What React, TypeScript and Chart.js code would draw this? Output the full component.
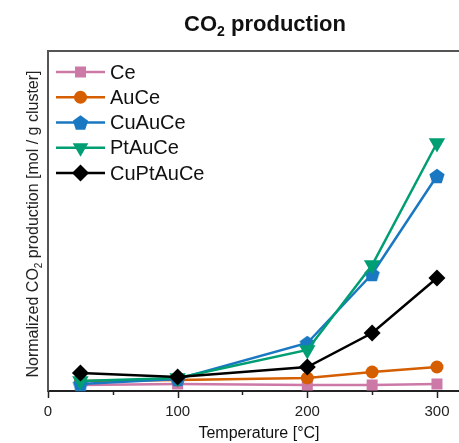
import React, { useEffect, useRef } from "react";
import { Chart, registerables } from "chart.js";

Chart.register(...registerables);

const temperatures = [25, 100, 200, 250, 300];
const seriesNames = ["Ce", "AuCe", "CuAuCe", "PtAuCe", "CuPtAuCe"];
const ceValues = [6, 7, 6, 6, 7];
const auCeValues = [10, 11, 13, 19, 24];
const cuAuCeValues = [7, 12, 48, 117, 215];
const ptAuCeValues = [10, 13, 41, 126, 248];
const cuPtAuCeValues = [18, 14, 24, 58, 113];
const xTickValues = [0, 50, 100, 150, 200, 250, 300];

const COLORS = ["#cc79a7", "#d55e00", "#1a78c2", "#009e73", "#000000"];
const FONT = "'Liberation Sans', Arial, Helvetica, sans-serif";

function makePentagon(color: string, r: number): HTMLCanvasElement {
  const c = document.createElement("canvas");
  const size = Math.ceil(r * 2 + 2);
  c.width = size;
  c.height = size;
  const ctx = c.getContext("2d")!;
  drawPentagon(ctx, size / 2, size / 2 + 0.8, r, color);
  return c;
}

function drawPentagon(ctx: CanvasRenderingContext2D, x: number, y: number, r: number, color: string) {
  ctx.beginPath();
  for (let i = 0; i < 5; i++) {
    const a = -Math.PI / 2 + (i * 2 * Math.PI) / 5;
    const px = x + r * Math.cos(a);
    const py = y + r * Math.sin(a);
    if (i === 0) ctx.moveTo(px, py);
    else ctx.lineTo(px, py);
  }
  ctx.closePath();
  ctx.fillStyle = color;
  ctx.fill();
}

function drawMarker(ctx: CanvasRenderingContext2D, kind: number, x: number, y: number) {
  const color = COLORS[kind];
  ctx.save();
  ctx.fillStyle = color;
  ctx.beginPath();
  if (kind === 0) {
    ctx.rect(x - 5.5, y - 5.5, 11, 11);
    ctx.fill();
  } else if (kind === 1) {
    ctx.arc(x, y, 6.5, 0, Math.PI * 2);
    ctx.fill();
  } else if (kind === 2) {
    drawPentagon(ctx, x, y + 0.8, 8, color);
  } else if (kind === 3) {
    const r = 9;
    ctx.moveTo(x, y + r);
    ctx.lineTo(x + r * 0.866, y - r * 0.5);
    ctx.lineTo(x - r * 0.866, y - r * 0.5);
    ctx.closePath();
    ctx.fill();
  } else {
    const r = 8.5;
    ctx.moveTo(x, y - r);
    ctx.lineTo(x + r, y);
    ctx.lineTo(x, y + r);
    ctx.lineTo(x - r, y);
    ctx.closePath();
    ctx.fill();
  }
  ctx.restore();
}

function drawSubText(
  ctx: CanvasRenderingContext2D,
  parts: { t: string; sub?: boolean }[],
  size: number,
  weight: string,
  cx: number,
  cy: number
) {
  let total = 0;
  const widths: number[] = [];
  for (const p of parts) {
    ctx.font = `${weight} ${p.sub ? Math.round(size * 0.65) : size}px ${FONT}`;
    const w = ctx.measureText(p.t).width;
    widths.push(w);
    total += w;
  }
  let x = cx - total / 2;
  ctx.textBaseline = "alphabetic";
  ctx.textAlign = "left";
  parts.forEach((p, i) => {
    ctx.font = `${weight} ${p.sub ? Math.round(size * 0.65) : size}px ${FONT}`;
    ctx.fillText(p.t, x, cy + (p.sub ? size * 0.22 : 0));
    x += widths[i];
  });
}

const decorPlugin = {
  id: "decor",
  afterDraw(chart: any) {
    const ctx: CanvasRenderingContext2D = chart.ctx;
    const area = chart.chartArea;
    const xs = chart.scales.x;
    ctx.save();
    // top border
    ctx.strokeStyle = "#555";
    ctx.lineWidth = 2;
    ctx.beginPath();
    ctx.moveTo(area.left - 1, area.top);
    ctx.lineTo(chart.width, area.top);
    ctx.stroke();
    // x ticks
    ctx.strokeStyle = "#222";
    ctx.lineWidth = 1.5;
    for (const v of xTickValues) {
      const px = Math.round(xs.getPixelForValue(v)) + 0.5;
      const len = v % 100 === 0 ? 7 : 4;
      ctx.beginPath();
      ctx.moveTo(px, area.bottom);
      ctx.lineTo(px, area.bottom + len);
      ctx.stroke();
    }
    // title
    ctx.fillStyle = "#111";
    drawSubText(ctx, [{ t: "CO" }, { t: "2", sub: true }, { t: " production" }], 22, "bold", 265, 31);
    // x title
    drawSubText(ctx, [{ t: "Temperature [°C]" }], 16, "normal", 259, 438);
    // y title
    ctx.save();
    ctx.translate(38, (area.top + area.bottom) / 2 + 3);
    ctx.rotate(-Math.PI / 2);
    ctx.fillStyle = "#222";
    drawSubText(
      ctx,
      [{ t: "Normalized CO" }, { t: "2", sub: true }, { t: " production [mol / g cluster]" }],
      16,
      "normal",
      0,
      0
    );
    ctx.restore();
    // x tick labels
    ctx.fillStyle = "#222";
    ctx.font = `15px ${FONT}`;
    ctx.textAlign = "center";
    ctx.textBaseline = "alphabetic";
    for (const v of xTickValues) {
      if (v % 100 !== 0) continue;
      ctx.fillText(String(v), xs.getPixelForValue(v), 416);
    }
    // legend
    const x0 = 56;
    const x1 = 105;
    const y0 = 72;
    const dy = 25.25;
    seriesNames.forEach((name, i) => {
      const y = y0 + i * dy;
      ctx.strokeStyle = COLORS[i];
      ctx.lineWidth = 2.5;
      ctx.beginPath();
      ctx.moveTo(x0, y);
      ctx.lineTo(x1, y);
      ctx.stroke();
      drawMarker(ctx, i, (x0 + x1) / 2, y);
      ctx.fillStyle = "#111";
      ctx.font = `20px ${FONT}`;
      ctx.textAlign = "left";
      ctx.textBaseline = "middle";
      ctx.fillText(name, 110, y + 1);
    });
    ctx.restore();
  },
};

export default function App() {
  const ref = useRef<HTMLCanvasElement | null>(null);
  useEffect(() => {
    if (!ref.current) return;
    const pentagon = makePentagon(COLORS[2], 8);
    const values = [ceValues, auCeValues, cuAuCeValues, ptAuCeValues, cuPtAuCeValues];
    const styles: any[] = [
      { pointStyle: "rect", pointRadius: 7.8, rotation: 0 },
      { pointStyle: "circle", pointRadius: 6.5, rotation: 0 },
      { pointStyle: pentagon, pointRadius: 8, rotation: 0 },
      { pointStyle: "triangle", pointRadius: 9.5, rotation: 180 },
      { pointStyle: "rectRot", pointRadius: 8.5, rotation: 0 },
    ];
    const datasets = seriesNames.map((name, i) => ({
      label: name,
      data: temperatures.map((t, j) => ({ x: t, y: values[i][j] })),
      borderColor: COLORS[i],
      backgroundColor: COLORS[i],
      pointBackgroundColor: COLORS[i],
      pointBorderWidth: 0,
      pointStyle: styles[i].pointStyle,
      pointRadius: styles[i].pointRadius,
      pointRotation: styles[i].rotation,
      borderWidth: 2.5,
      tension: 0,
      clip: false as any,
      order: 5 - i,
    }));
    const chart = new Chart(ref.current, {
      type: "line",
      data: { datasets },
      plugins: [decorPlugin],
      options: {
        animation: false,
        responsive: false,
        events: [],
        layout: { autoPadding: false, padding: { top: 51, right: 0, left: 0, bottom: 0 } },
        plugins: { legend: { display: false }, tooltip: { enabled: false }, title: { display: false } },
        scales: {
          x: {
            type: "linear",
            min: 0,
            max: 317,
            afterFit: (s: any) => {
              s.height = 52;
              s.paddingLeft = 0;
              s.paddingRight = 0;
            },
            grid: { display: false },
            border: { display: true, color: "#222", width: 2 },
            ticks: { display: false, stepSize: 50 },
          },
          y: {
            type: "linear",
            min: 0,
            max: 340,
            afterFit: (s: any) => {
              s.width = 48;
              s.paddingTop = 0;
              s.paddingBottom = 0;
            },
            grid: { display: false },
            border: { display: true, color: "#555", width: 2 },
            ticks: { display: false },
          },
        },
      },
    } as any);
    return () => chart.destroy();
  }, []);
  return (
    <div style={{ position: "absolute", left: 0, top: 0, width: 459, height: 443, background: "#fff" }}>
      <canvas ref={ref} width={459} height={443} style={{ display: "block" }} />
    </div>
  );
}
